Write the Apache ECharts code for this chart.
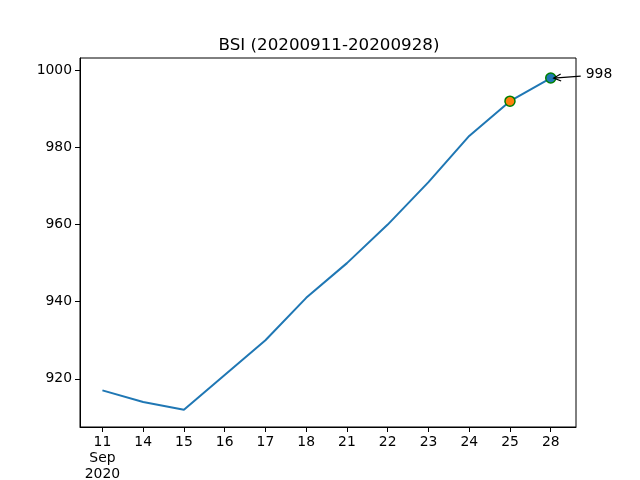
<!DOCTYPE html>
<html>
<head>
<meta charset="utf-8">
<script src="https://cdn.jsdelivr.net/npm/echarts@6/dist/echarts.min.js"></script>
<style>html,body{margin:0;padding:0;background:#fff}#c{width:640px;height:480px}</style>
</head>
<body>
<div id="c"></div>
<script>
var categories = ['11', '14', '15', '16', '17', '18', '21', '22', '23', '24', '25', '28'];
var monthLabel = 'Sep';
var yearLabel = '2020';
var values = [917, 914, 912, 921, 930, 941, 950, 960, 971, 983, 992, 998];
var yTicks = [920, 940, 960, 980, 1000];
var titleText = 'BSI (20200911-20200928)';
var highlightIndex = 10;
var lastIndex = 11;
var annotationText = '998';

var font = 'DejaVu Sans';
var idx = categories.map(function (_, i) { return i; });
var lineData = values.map(function (v, i) { return [i, v]; });

var chart = echarts.init(document.getElementById('c'), null, { renderer: 'canvas' });
chart.setOption({
  animation: false,
  backgroundColor: '#ffffff',
  title: {
    text: titleText,
    left: 324, textAlign: 'center',
    top: 32,
    textStyle: { fontFamily: font, fontSize: 16.7, fontWeight: 'normal', color: '#000' }
  },
  grid: {
    left: 80, right: 64, top: 58, bottom: 53,
    outerBoundsMode: 'none',
    containLabel: false,
    show: true, borderColor: '#000', borderWidth: 1, backgroundColor: 'transparent'
  },
  xAxis: {
    type: 'value',
    min: -0.55, max: 11.62,
    splitLine: { show: false },
    axisLine: { show: true, onZero: false, lineStyle: { color: '#000', width: 1 } },
    axisTick: { show: true, customValues: idx, length: 5, lineStyle: { color: '#000' } },
    axisLabel: {
      customValues: idx,
      margin: 7,
      fontFamily: font, fontSize: 13.9, color: '#000', lineHeight: 16,
      formatter: function (v) {
        var i = Math.round(v);
        if (i === 0) return categories[0] + '\n' + monthLabel + '\n' + yearLabel;
        return categories[i];
      }
    }
  },
  yAxis: {
    type: 'value',
    min: 907.5, max: 1003.2,
    splitLine: { show: false },
    axisLine: { show: true, onZero: false, lineStyle: { color: '#000', width: 1 } },
    axisTick: { show: true, customValues: yTicks, length: 5, lineStyle: { color: '#000' } },
    axisLabel: {
      customValues: yTicks,
      margin: 8,
      fontFamily: font, fontSize: 13.9, color: '#000',
      formatter: function (v) { return String(Math.round(v)); }
    }
  },
  series: [
    {
      type: 'line',
      data: lineData,
      showSymbol: false,
      symbol: 'none',
      lineStyle: { color: '#1f77b4', width: 2 },
      z: 2
    },
    {
      type: 'scatter',
      data: [[highlightIndex, values[highlightIndex]]],
      symbol: 'circle', symbolSize: 10,
      itemStyle: { color: '#ff7f0e', borderColor: '#008000', borderWidth: 1.5, opacity: 1 },
      z: 3
    },
    {
      type: 'scatter',
      data: [[lastIndex, values[lastIndex]]],
      symbol: 'circle', symbolSize: 10,
      itemStyle: { color: '#1f77b4', borderColor: '#008000', borderWidth: 1.5, opacity: 1 },
      z: 3
    }
  ]
});

// annotation arrow, placed via the chart's own scales
var tip = chart.convertToPixel({ gridIndex: 0 }, [lastIndex, values[lastIndex]]);
var tipX = tip[0] + 3, tipY = tip[1];
var tailX = tip[0] + 30, tailY = tip[1] - 2;
var ang = Math.atan2(tailY - tipY, tailX - tipX);
var hl = 8, hw = 0.45;
var p1 = [tipX + hl * Math.cos(ang + hw), tipY + hl * Math.sin(ang + hw)];
var p2 = [tipX + hl * Math.cos(ang - hw), tipY + hl * Math.sin(ang - hw)];
chart.setOption({
  graphic: [
    { type: 'line', shape: { x1: tailX, y1: tailY, x2: tipX, y2: tipY }, style: { stroke: '#000', lineWidth: 1.2 }, z: 10 },
    { type: 'polyline', shape: { points: [p1, [tipX, tipY], p2] }, style: { stroke: '#000', lineWidth: 1.2, fill: null }, z: 10 },
    { type: 'text', x: tailX + 5, y: tailY - 2, style: { text: annotationText, font: '13.9px "DejaVu Sans"', fill: '#000', textVerticalAlign: 'middle', verticalAlign: 'middle' }, z: 10 }
  ]
});
</script>
</body>
</html>
